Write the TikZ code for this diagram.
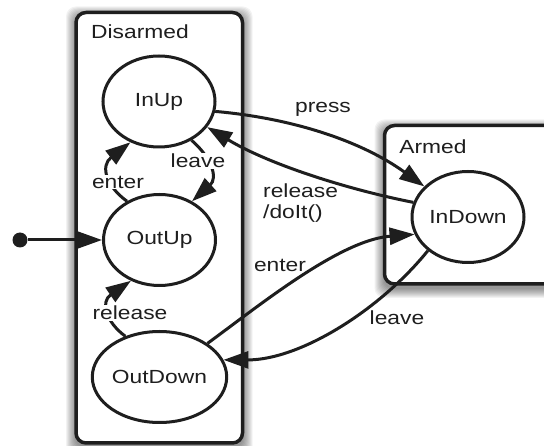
\documentclass[tikz,border=0pt]{standalone}
\usepackage{fontspec}
\setmainfont{Liberation Sans}[FakeStretch=1.2]
\usetikzlibrary{shapes.geometric,arrows.meta}
\definecolor{ink}{HTML}{1E1E1E}
\begin{document}
\begin{tikzpicture}[x=1pt,y=-1pt,
  state/.style={ellipse, draw=ink, line width=3pt, fill=white, minimum width=112pt, minimum height=91pt, inner sep=0pt, text=ink, font=\fontsize{19}{22}\selectfont},
  group/.style={draw=ink, line width=3.5pt, rounded corners=10pt, fill=white, inner sep=0pt},
  edge/.style={draw=ink, line width=3pt, -{Triangle[length=25pt,width=17pt]}},
  lab/.style={font=\fontsize{19}{21}\selectfont, text=ink, inner sep=1pt},
  cover/.style={lab, fill=white}
]
\useasboundingbox (0,0) rectangle (544,446);
% soft shadows
\foreach \i in {1,...,10}{
  \fill[black, opacity=0.05, rounded corners=10pt] (76-\i,16.5-\i) rectangle (242.5+\i,447+\i);
  \fill[black, opacity=0.05, rounded corners=10pt] (384.5-\i,129.5-\i) rectangle (570+\i,288+\i);
}
% group boxes
\node[group, minimum width=166.5pt, minimum height=430.5pt] (Disarmed) at (159.25,227.75) {};
\node[group, minimum width=185.5pt, minimum height=158.5pt] (Armed) at (477.25,204.75) {};
\node[lab] (DisL) at (140,32) {Disarmed};
\node[lab] (ArmL) at (433,147) {Armed};
% states
\node[state] (InUp) at (159,101.5) {InUp};
\node[state] (OutUp) at (159.5,240) {OutUp};
\node[state] (OutDown) at (159.5,377) {OutDown};
\node[state] (InDown) at (468,217) {InDown};
\node[circle, fill=ink, minimum size=15pt, inner sep=0pt] (init) at (20,240) {};
% transitions
\draw[edge] (init) -- (OutUp);
\draw[edge] (OutUp.130) .. controls (106,186) and (100,166) .. (InUp.235);
\draw[edge] (InUp.310) .. controls (212,158) and (218,178) .. (OutUp.50);
\draw[edge] (OutDown.130) .. controls (106,322) and (100,302) .. (OutUp.235);
\draw[edge] (InUp.-10) .. controls (290,118) and (360,140) .. (InDown.145);
\draw[edge] (InDown.165) .. controls (350,190) and (270,165) .. (InUp.-28);
\draw[edge] (OutDown.35) .. controls (260,305) and (340,240) .. (InDown.198);
\draw[edge] (InDown.220) .. controls (380,310) and (300,360) .. (OutDown.15);
% labels
\node[lab] (pressL) at (323,109) {press};
\node[lab, align=left, anchor=west] (relL) at (262,203) {release\\/doIt()};
\node[lab] (enterL) at (280,265) {enter};
\node[lab] (leaveL) at (397,318) {leave};
\node[cover] (enterI) at (118,182) {enter};
\node[cover] (leaveI) at (198,161) {leave};
\node[cover] (relI) at (130,313) {release};
\end{tikzpicture}
\end{document}
